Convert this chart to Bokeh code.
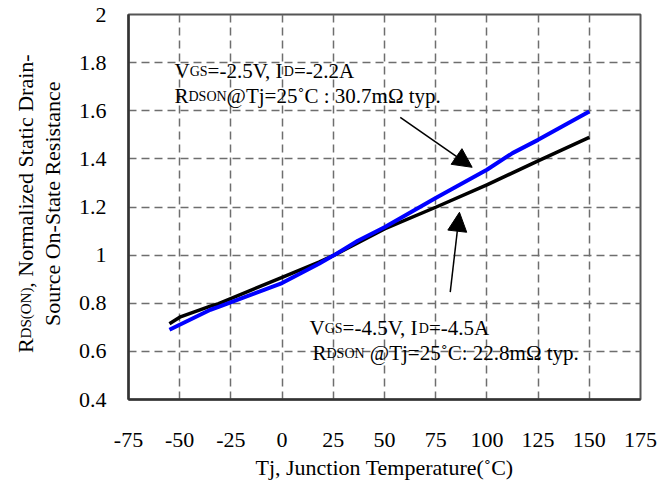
import math
from bokeh.plotting import figure
from bokeh.layouts import row
from bokeh.models import Label, Arrow, NormalHead, FixedTicker, Range1d
from bokeh.embed import file_html
from bokeh.resources import INLINE

# ---------------- data ----------------
# VGS=-2.5V, ID=-2.2A (blue)
temp_25 = [-55, -35, -31, 0, 18, 25, 37, 50, 75, 100, 112.5, 125, 150]
rds_25 = [0.690, 0.773, 0.785, 0.884, 0.964, 0.998, 1.060, 1.116, 1.237, 1.355, 1.424, 1.479, 1.597]
# VGS=-4.5V, ID=-4.5A (black)
temp_45 = [-55, -50, -35, -31, 0, 18, 25, 50, 75, 100, 125, 150]
rds_45 = [0.715, 0.742, 0.788, 0.798, 0.908, 0.971, 0.998, 1.109, 1.199, 1.292, 1.392, 1.489]

x_ticks = [-75, -50, -25, 0, 25, 50, 75, 100, 125, 150, 175]
x_tick_labels = ["-75", "-50", "-25", "0", "25", "50", "75", "100", "125", "150", "175"]
y_ticks = [0.4, 0.6, 0.8, 1.0, 1.2, 1.4, 1.6, 1.8, 2.0]
y_tick_labels = ["0.4", "0.6", "0.8", "1", "1.2", "1.4", "1.6", "1.8", "2"]

x_title = "Tj, Junction Temperature(˚C)"
ylab_line1 = [("R", 22), ("DS(ON)", 15), (", Normalized Static Drain-", 22)]
ylab_line2 = [("Source On-State Resistance", 22)]
note1_line1 = [("V", 21), ("GS", 14), ("=-2.5V, I", 21), ("D", 14), ("=-2.2A", 21)]
note1_line2 = [("R", 21), ("DSON", 14), ("@Tj=25˚C : 30.7mΩ typ.", 21)]
note2_line1 = [("V", 21), ("GS", 14), ("=-4.5V, I", 21), ("D", 14), ("=-4.5A", 21)]
note2_line2 = [("R", 21), ("DSON", 14), (" @Tj=25˚C: 22.8mΩ typ.", 21)]

FONT = "Liberation Serif"
DESCENT = 0.216  # Liberation Serif descent, fraction of the em
SMALL_RAISE = 2.5  # lift of the small-caps pieces so they sit on the baseline
H = 482          # common height of both figures
TOP, BOTTOM = 14, 82
FRAME_H = H - TOP - BOTTOM
LEFT_W = 72      # width of the strip holding the rotated y title

# Times-compatible advance widths (per 1000 em) to lay out mixed-size text
W = {' ': 250, '!': 333, '(': 333, ')': 333, ',': 250, '-': 333, '.': 250, ':': 278,
     '=': 564, '@': 921, 'A': 722, 'C': 667, 'D': 722, 'G': 722, 'I': 333, 'J': 389,
     'N': 722, 'O': 722, 'R': 667, 'S': 556, 'T': 611, 'V': 722, 'a': 444, 'c': 444,
     'd': 500, 'e': 444, 'i': 278, 'j': 278, 'l': 278, 'm': 778, 'n': 500, 'o': 500,
     'p': 500, 'r': 333, 's': 389, 't': 278, 'u': 500, 'y': 500, 'z': 444, 'Ω': 768,
     '˚': 333}
for d in "0123456789":
    W[d] = 500


def tw(s, size):
    return sum(W.get(ch, 500) for ch in s) * size / 1000.0


def rich(fig, pieces, x0, y0, angle=0.0, center=False, units="screen"):
    """Lay out text pieces of mixed size along a common baseline through (x0, y0)."""
    total = sum(tw(t, s) for t, s in pieces)
    big = max(s for _, s in pieces)
    off = -total / 2 if center else 0.0
    ca, sa = math.cos(angle), math.sin(angle)
    for txt, size in pieces:
        lead = len(txt) - len(txt.lstrip(" "))
        off += tw(" " * lead, size)
        txt = txt.lstrip(" ")
        d = DESCENT * size - (SMALL_RAISE if size < big else 0.0)
        fig.add_layout(Label(x=x0 + off * ca + d * sa, y=y0 + off * sa - d * ca,
                             x_units=units, y_units=units, text=txt,
                             text_font=FONT, text_font_size=f"{size}px", text_color="black",
                             text_align="left", text_baseline="bottom", angle=angle))
        off += tw(txt, size)
        if txt.endswith("I"):
            off -= 1.5


# ---------------- main chart ----------------
p = figure(width=590, height=H, output_backend="svg", toolbar_location=None,
           x_range=Range1d(-75, 175), y_range=Range1d(0.4, 2.0),
           min_border_left=56, min_border_right=22, min_border_top=TOP, min_border_bottom=BOTTOM)
p.background_fill_color = "white"
p.border_fill_color = "white"
p.outline_line_color = "#555555"
p.outline_line_width = 2

for ax in (p.xaxis[0], p.yaxis[0]):
    ax.axis_line_color = "#333333"
    ax.axis_line_width = 2.5
    ax.major_tick_out = 0
    ax.major_tick_in = 0
    ax.minor_tick_out = 0
    ax.minor_tick_in = 0
    ax.major_label_text_font = FONT
    ax.major_label_text_font_size = "22px"
    ax.major_label_text_color = "black"

p.xaxis.ticker = FixedTicker(ticks=x_ticks)
p.xaxis.major_label_overrides = dict(zip(x_ticks, x_tick_labels))
p.yaxis.ticker = FixedTicker(ticks=y_ticks)
p.yaxis.major_label_overrides = dict(zip(y_ticks, y_tick_labels))
p.xaxis.major_label_standoff = 33
p.yaxis.major_label_standoff = 22

p.xaxis.axis_label = x_title
p.xaxis.axis_label_text_font = FONT
p.xaxis.axis_label_text_font_size = "22px"
p.xaxis.axis_label_text_font_style = "normal"
p.xaxis.axis_label_text_color = "black"
p.xaxis.axis_label_standoff = 5

for g in (p.xgrid[0], p.ygrid[0]):
    g.grid_line_color = "#6e6e6e"
    g.grid_line_width = 1.5
    g.grid_line_dash = "8 5"
p.xgrid.ticker = FixedTicker(ticks=x_ticks)
p.ygrid.ticker = FixedTicker(ticks=y_ticks)

p.line(temp_45, rds_45, line_color="black", line_width=3.5)
p.line(temp_25, rds_25, line_color="#0000ff", line_width=4)

# arrows
p.add_layout(Arrow(x_start=57.7, y_start=1.572, x_end=92.8, y_end=1.365,
                   line_color="black", line_width=1.5,
                   end=NormalHead(size=19, fill_color="black", line_color="black")))
p.add_layout(Arrow(x_start=82.1, y_start=0.846, x_end=86.6, y_end=1.178,
                   line_color="black", line_width=1.5,
                   end=NormalHead(size=19, fill_color="black", line_color="black")))

# annotations: baselines in screen px relative to the frame's bottom-left corner
rich(p, note1_line1, 46, 321)
rich(p, note1_line2, 46, 296)
rich(p, note2_line1, 181, 64)
rich(p, note2_line2, 184, 39)

# ---------------- strip with the rotated y-axis title ----------------
t = figure(width=LEFT_W, height=H, output_backend="svg", toolbar_location=None,
           x_range=Range1d(0, LEFT_W), y_range=Range1d(0, FRAME_H),
           x_axis_type=None, y_axis_type=None,
           min_border_left=0, min_border_right=0, min_border_top=TOP, min_border_bottom=BOTTOM)
t.grid.visible = False
t.outline_line_color = None
t.background_fill_color = "white"
t.border_fill_color = "white"
rich(t, ylab_line1, 33, 196, angle=math.pi / 2, center=True, units="data")
rich(t, ylab_line2, 60, 196, angle=math.pi / 2, center=True, units="data")

layout = row(t, p)
open("out.html", "w").write(file_html(layout, INLINE))
